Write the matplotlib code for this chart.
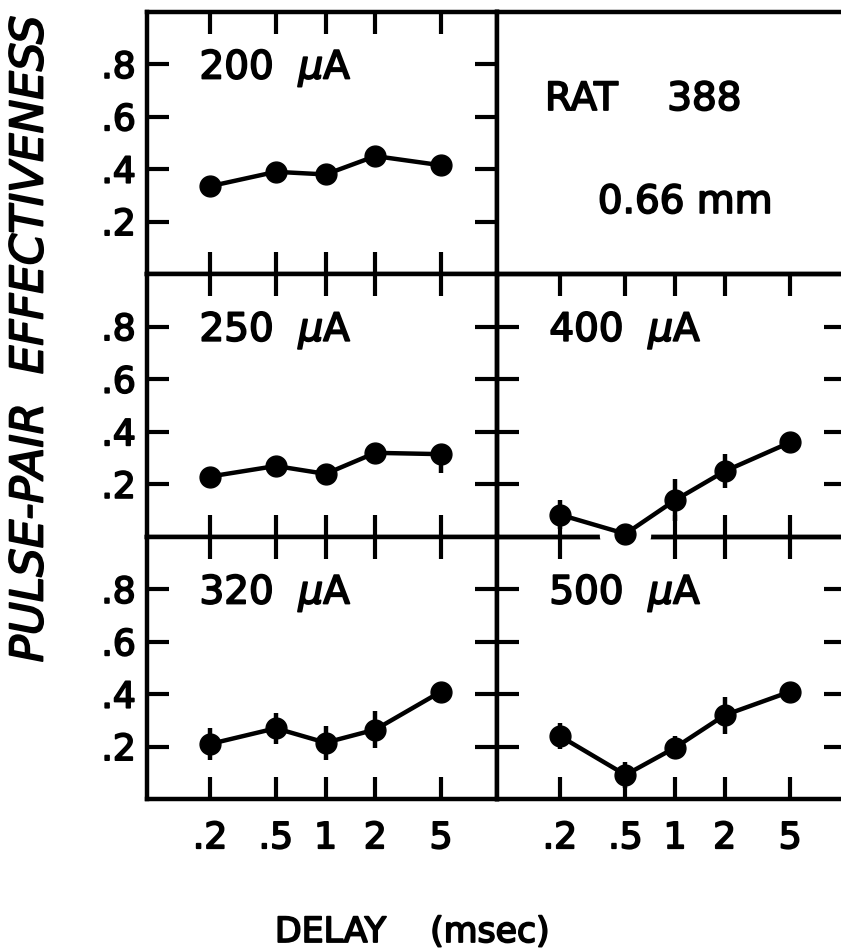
import matplotlib
matplotlib.use("Agg")
import matplotlib.pyplot as plt
import matplotlib.patheffects as mpe
from matplotlib.ticker import FixedLocator, FixedFormatter, NullLocator

# ---------------- data ----------------
delays = [0.2, 0.5, 1, 2, 5]
delay_labels = [".2", ".5", "1", "2", "5"]
ytick_vals = [0.2, 0.4, 0.6, 0.8]
ytick_labels = [".2", ".4", ".6", ".8"]

currents = ["200", "250", "320", "400", "500"]

eff_200 = [0.335, 0.39, 0.38, 0.45, 0.415]
err_200_lo = [0, 0, 0, 0, 0]
err_200_hi = [0, 0, 0, 0, 0]

eff_250 = [0.23, 0.27, 0.24, 0.32, 0.315]
err_250_lo = [0, 0, 0, 0, 0.07]
err_250_hi = [0, 0, 0, 0, 0]

eff_320 = [0.21, 0.27, 0.215, 0.265, 0.41]
err_320_lo = [0.06, 0.06, 0.065, 0.07, 0]
err_320_hi = [0.06, 0.06, 0.065, 0.07, 0]

eff_400 = [0.085, 0.012, 0.14, 0.25, 0.36]
err_400_lo = [0.055, 0, 0.08, 0.065, 0]
err_400_hi = [0.055, 0, 0.08, 0.065, 0]

eff_500 = [0.24, 0.092, 0.196, 0.32, 0.41]
err_500_lo = [0.05, 0.05, 0.045, 0.07, 0]
err_500_hi = [0.05, 0.05, 0.045, 0.07, 0]

rat_text = "RAT    388"
depth_text = "0.66 mm"
xlabel = "DELAY    (msec)"
ylabel = "PULSE-PAIR  EFFECTIVENESS"

# ---------------- figure ----------------
plt.rcParams["font.family"] = ["DejaVu Sans"]
plt.rcParams["mathtext.fontset"] = "dejavusans"

W, H = 841, 952
fig = plt.figure(figsize=(W / 100, H / 100), dpi=100)

PE = [mpe.withStroke(linewidth=1.3, foreground="black")]


def box(l, t, r, b):
    return [l / W, 1 - b / H, (r - l) / W, (b - t) / H]


cols = [(147, 497), (497, 846)]
rows = [(12, 274), (274, 537), (537, 799)]

LW_SPINE = 3.2
TICK_LEN = 16
TICK_W = 3.0
TICK_FS = 26
LABEL_FS = 28


def style_axes(ax, left_labels, bottom_labels):
    ax.set_xscale("log")
    ax.set_xlim(0.083, 10.9)
    ax.set_ylim(0, 1.0)
    ax.xaxis.set_major_locator(FixedLocator(delays))
    ax.xaxis.set_major_formatter(FixedFormatter(delay_labels))
    ax.xaxis.set_minor_locator(NullLocator())
    ax.yaxis.set_major_locator(FixedLocator(ytick_vals))
    ax.yaxis.set_major_formatter(FixedFormatter(ytick_labels))
    ax.yaxis.set_minor_locator(NullLocator())
    ax.tick_params(which="both", direction="in", top=True, right=True,
                   bottom=True, left=True, length=TICK_LEN, width=TICK_W,
                   labelsize=TICK_FS, labelleft=left_labels,
                   labelbottom=bottom_labels, pad=8)
    ax.tick_params(axis="x", pad=16)
    for s in ax.spines.values():
        s.set_linewidth(LW_SPINE)


def draw(ax, eff, lo, hi, label):
    ax.errorbar(delays, eff, yerr=[lo, hi], fmt="o-", color="black",
                ms=15, lw=3.2, elinewidth=3.2, capsize=0, clip_on=False,
                zorder=4)
    ax.text(0.15, 0.745, label + r"  $\mu$A", transform=ax.get_yaxis_transform(),
            fontsize=LABEL_FS, ha="left", va="baseline", path_effects=PE)


ax200 = fig.add_axes(box(cols[0][0], rows[0][0], cols[0][1], rows[0][1]))
ax_info = fig.add_axes(box(cols[1][0], rows[0][0], cols[1][1], rows[0][1]))
ax250 = fig.add_axes(box(cols[0][0], rows[1][0], cols[0][1], rows[1][1]))
ax320 = fig.add_axes(box(cols[0][0], rows[2][0], cols[0][1], rows[2][1]))
ax500 = fig.add_axes(box(cols[1][0], rows[2][0], cols[1][1], rows[2][1]))
ax400 = fig.add_axes(box(cols[1][0], rows[1][0], cols[1][1], rows[1][1]))
ax400.set_zorder(3)
ax400.patch.set_alpha(0)

data_axes = [ax200, ax250, ax320, ax400, ax500]
style_axes(ax200, True, False)
style_axes(ax250, True, False)
style_axes(ax320, True, True)
style_axes(ax400, False, False)
style_axes(ax500, False, True)

draw(ax200, eff_200, err_200_lo, err_200_hi, currents[0])
draw(ax250, eff_250, err_250_lo, err_250_hi, currents[1])
draw(ax320, eff_320, err_320_lo, err_320_hi, currents[2])
draw(ax400, eff_400, err_400_lo, err_400_hi, currents[3])
draw(ax500, eff_500, err_500_lo, err_500_hi, currents[4])

# white halo where the 400 uA curve dips onto the frame
ax400.plot(delays[1], eff_400[1], "o", color="white", ms=36, clip_on=False,
           zorder=3.5)

# info panel
ax_info.set_xticks([])
ax_info.set_yticks([])
for s in ax_info.spines.values():
    s.set_linewidth(LW_SPINE)
ax_info.text(0.1375, 0.626, rat_text, transform=ax_info.transAxes,
             fontsize=LABEL_FS, ha="left", va="baseline", path_effects=PE)
ax_info.text(0.289, 0.233, depth_text, transform=ax_info.transAxes,
             fontsize=28, ha="left", va="baseline", path_effects=PE)

fig.text(412 / W, 1 - 942 / H, xlabel, fontsize=25, ha="center",
         va="baseline", path_effects=PE)
fig.text(30 / W, 1 - 339 / H, ylabel, fontsize=32.5, style="italic",
         rotation=90, ha="center", va="center", path_effects=PE)

fig.canvas.draw()
for ax in data_axes:
    for t in ax.xaxis.get_major_ticks() + ax.yaxis.get_major_ticks():
        t.label1.set_path_effects(PE)

fig.savefig("out.png", dpi=100, facecolor="white")
